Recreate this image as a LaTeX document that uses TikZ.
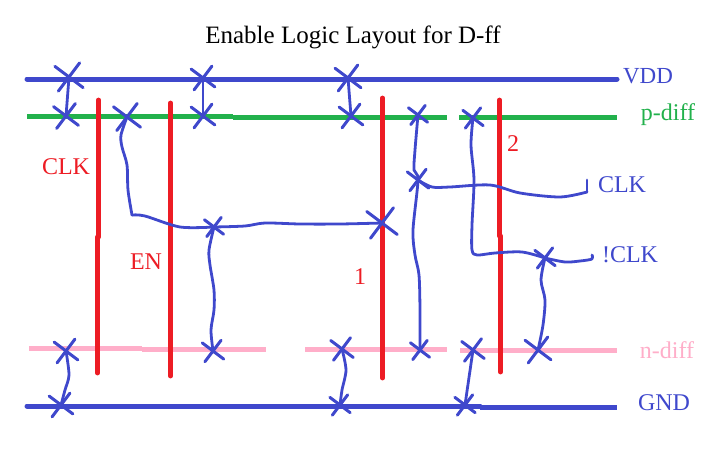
\documentclass[tikz,border=0pt]{standalone}
\usepackage{fontspec}
\setmainfont{Liberation Serif}
\usetikzlibrary{shapes.misc}
\definecolor{wireblue}{HTML}{3F48CC}
\definecolor{gatered}{HTML}{ED1C24}
\definecolor{pdiffgreen}{HTML}{22B14C}
\definecolor{ndiffpink}{HTML}{FFAEC9}

\begin{document}
\begin{tikzpicture}[x=1pt,y=-1pt,line cap=round]
  \tikzset{contact/.style={cross out,draw=wireblue,line width=3pt,inner sep=0pt,minimum size=#1,rotate=8},contact/.default=18pt,
    wire/.style={draw=wireblue,line width=2.8pt,line join=round},
    rail/.style={draw=wireblue,line width=5pt},
    poly/.style={draw=gatered,line width=4.8pt},
    pdiff/.style={draw=pdiffgreen,line width=5pt,line cap=butt},
    ndiff/.style={draw=ndiffpink,line width=5pt,line cap=butt},
    lbl/.style={inner sep=0pt,font=\fontsize{24}{27}\selectfont}}
  \useasboundingbox (0,0) rectangle (725,455);
  % rails and diffusion
  \draw[pdiff] (27,116.5) -- (233,116.5);
  \draw[pdiff] (233,117.5) -- (447,117.5);
  \draw[pdiff] (459,117.5) -- (617,117.5);
  \draw[ndiff] (29,348) -- (142,348);
  \draw[ndiff] (142,349.5) -- (266,349.5);
  \draw[ndiff] (305,349.5) -- (447,349.5);
  \draw[ndiff] (460,350.5) -- (617,350.5);
  \draw[rail] (27,79) -- (617,79);
  \draw[rail] (27,406) -- (480,406);
  \draw[rail,line cap=butt] (480,407) -- (617,407);
  % gates
  \draw[poly] (98.5,100) -- (98.5,237);
  \draw[poly] (97.5,237) -- (97.5,373);
  \draw[poly] (170.5,103) -- (170.5,376);
  \draw[poly] (382.5,98) -- (382.5,378);
  \draw[poly] (499.5,100) -- (499.5,236);
  \draw[poly] (500.5,236) -- (500.5,372);
  % contacts
  \node[contact=22pt] (vdd1) at (69,77) {};
  \node[contact=19pt] (pd1) at (66,116) {};
  \node[contact=21pt] (pd2) at (127,117) {};
  \node[contact] (vdd2) at (203,78) {};
  \node[contact] (pd3) at (203,116) {};
  \node[contact=20pt] (vdd3) at (348,78) {};
  \node[contact] (pd4) at (351,116) {};
  \node[contact=14pt] (en) at (214,227) {};
  \node[contact=24pt] (g1) at (382,223) {};
  \node[contact=14pt] (pd5) at (418,115) {};
  \node[contact=16pt] (clkc) at (418,180) {};
  \node[contact=15pt] (pd6) at (473,118) {};
  \node[contact=15pt] (nclkc) at (545,258) {};
  \node[contact] (nd1) at (66,351) {};
  \node[contact] (gnd1) at (61,405) {};
  \node[contact=16pt] (nd2) at (213,351) {};
  \node[contact=17pt] (nd3) at (342,349) {};
  \node[contact=15pt] (gnd2) at (340,405) {};
  \node[contact=14pt] (nd4) at (420,350) {};
  \node[contact=17pt] (nd5) at (473,350) {};
  \node[contact=15pt] (gnd3) at (465,405) {};
  \node[contact=20pt] (nd6) at (538,350) {};
  \coordinate (clkend) at (587,180);
  \coordinate (nclkend) at (592,255);
  % wires
  \draw[wire] (vdd1.center) -- (pd1.center);
  \draw[wire] (vdd2.center) -- (pd3.center);
  \draw[wire] (vdd3.center) -- (pd4.center);
  \draw[wire] plot[smooth,tension=0.5] coordinates {(pd2.center) (121,135) (122,147) (127,165) (128,190) (132,215)};
  \draw[wire] plot[smooth,tension=0.5] coordinates {(132,215) (145,216) (180,227) (en.center)};
  \draw[wire] plot[smooth,tension=0.5] coordinates {(en.center) (245,226) (265,223) (300,224) (340,224) (g1.center)};
  \draw[wire] plot[smooth,tension=0.5] coordinates {(en.center) (209,250) (210,265) (214,290) (214,310) (211,330) (nd2.center)};
  \draw[wire] plot[smooth,tension=0.5] coordinates {(pd5.center) (415,150) (414,170) (clkc.center) (413,230) (415,255) (419,275) (420,310) (nd4.center)};
  \draw[wire] plot[smooth,tension=0.5] coordinates {(clkc.center) (432,187) (450,187) (490,185) (520,193) (560,197) (587,192)};
  \draw[wire] (587,192) -- (clkend);
  \draw[wire] plot[smooth,tension=0.5] coordinates {(pd6.center) (471,145) (474,180) (472,225) (472,250) (477,255) (495,253) (522,252) (nclkc.center)};
  \draw[wire] plot[smooth,tension=0.5] coordinates {(nclkc.center) (541,280) (545,300) (543,325) (nd6.center)};
  \draw[wire] plot[smooth,tension=0.5] coordinates {(nclkc.center) (565,262) (580,261) (592,259) (nclkend)};
  \draw[wire] plot[smooth,tension=0.5] coordinates {(nd1.center) (69,375) (65,390) (gnd1.center)};
  \draw[wire] plot[smooth,tension=0.5] coordinates {(nd3.center) (346,370) (342,390) (gnd2.center)};
  \draw[wire] (nd5.center) -- (gnd3.center);
  % labels
  \node[lbl,font=\fontsize{25}{28}\selectfont] (title) at (353,37) {Enable Logic Layout for D-ff};
  \node[lbl,text=gatered] (clkgate) at (66,167) {CLK};
  \node[lbl,text=gatered] (engate) at (146,262) {EN};
  \node[lbl,text=gatered] (one) at (360,277) {1};
  \node[lbl,text=gatered] (two) at (513,144) {2};
  \node[lbl,text=wireblue,font=\fontsize{23}{26}\selectfont] (vddlbl) at (648,76) {VDD};
  \node[lbl,text=pdiffgreen] (pdifflbl) at (668,115) {p-diff};
  \node[lbl,text=wireblue] (clklbl) at (622,185) {CLK};
  \node[lbl,text=wireblue] (nclklbl) at (630,255) {!CLK};
  \node[lbl,text=ndiffpink] (ndifflbl) at (667,350) {n-diff};
  \node[lbl,text=wireblue] (gndlbl) at (664,403) {GND};
\end{tikzpicture}
\end{document}
